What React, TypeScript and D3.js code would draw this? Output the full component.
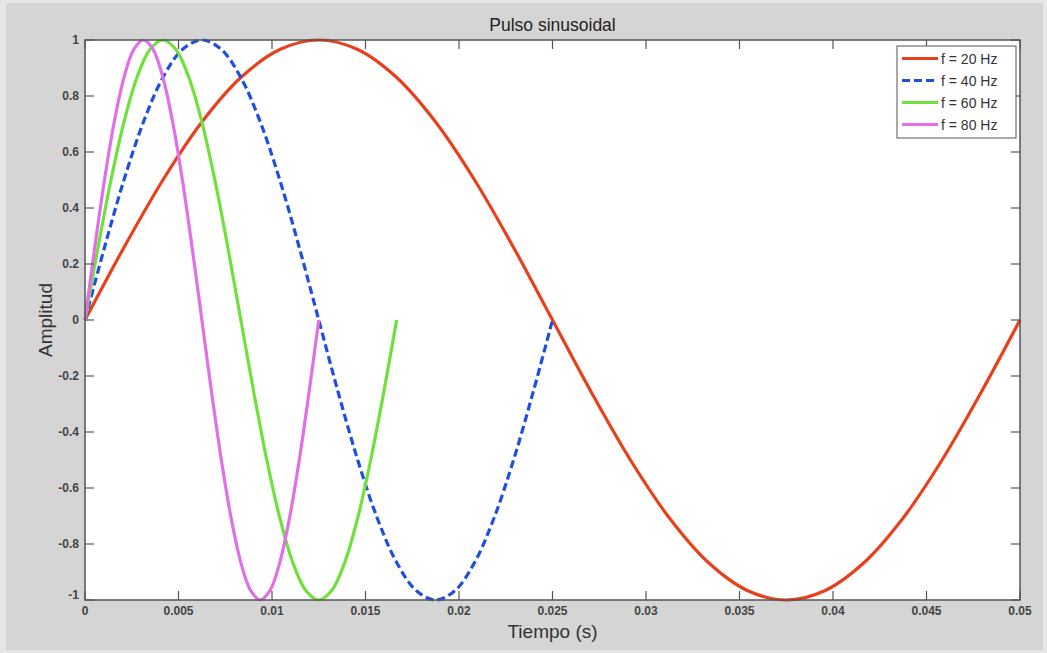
import React from "react";
import * as d3 from "d3";

// Legend labels and frequencies (Hz)
const seriesNames = ["f = 20 Hz", "f = 40 Hz", "f = 60 Hz", "f = 80 Hz"];
const frequencies = [20, 40, 60, 80];
// Duration of each pulse (one period, s)
const durations = [0.05, 0.025, 0.016667, 0.0125];
// Amplitude read along one period, at 24 equal steps
const pulseShape = [
  0, 0.259, 0.5, 0.707, 0.866, 0.966, 1, 0.966, 0.866, 0.707, 0.5, 0.259, 0,
  -0.259, -0.5, -0.707, -0.866, -0.966, -1, -0.966, -0.866, -0.707, -0.5, -0.259, 0,
];
const colors = ["#e8401c", "#1f4fe0", "#70e03c", "#e070e6"];
const dashes = [null, "8,4", null, null];

const xTicks = [0, 0.005, 0.01, 0.015, 0.02, 0.025, 0.03, 0.035, 0.04, 0.045, 0.05];
const yTicks = [-1, -0.8, -0.6, -0.4, -0.2, 0, 0.2, 0.4, 0.6, 0.8, 1];

const W = 1047;
const H = 653;
const L = 85, R = 1020, T = 40, B = 600;

export default function App() {
  const x = d3.scaleLinear().domain([0, 0.05]).range([L, R]);
  const y = d3.scaleLinear().domain([-1, 1]).range([B, T]);
  const line = d3
    .line<[number, number]>()
    .x((d) => x(d[0]))
    .y((d) => y(d[1]))
    .curve(d3.curveCatmullRom.alpha(0.5));

  const series = frequencies.map((f, si) =>
    pulseShape.map((a, i) => [(i / (pulseShape.length - 1)) * durations[si], a] as [number, number])
  );

  const font = "'Liberation Sans', Arial, Helvetica, sans-serif";
  const tickLen = 9;

  return (
    <svg
      width={W}
      height={H}
      style={{ position: "absolute", left: 0, top: 0, display: "block" }}
      fontFamily={font}
    >
      <rect x={0} y={0} width={W} height={H} fill="#e6e6e6" />
      <rect x={6} y={3} width={W - 10} height={H - 6} fill="#d5d5d5" />
      <rect x={L} y={T} width={R - L} height={B - T} fill="#ffffff" />

      <text x={(L + R) / 2} y={31} textAnchor="middle" fontSize={17.5} fill="#222">
        Pulso sinusoidal
      </text>

      <defs>
        <clipPath id="plotclip">
          <rect x={L - 3} y={T - 3} width={R - L + 6} height={B - T + 6} />
        </clipPath>
      </defs>

      <g clipPath="url(#plotclip)">
        {series.map((s, i) => (
          <path
            key={i}
            d={line(s) || ""}
            fill="none"
            stroke={colors[i]}
            strokeWidth={3.2}
            strokeDasharray={dashes[i] || undefined}
          />
        ))}
      </g>

      {/* axes box */}
      <rect x={L} y={T} width={R - L} height={B - T} fill="none" stroke="#555" strokeWidth={1.5} />

      {xTicks.map((t, i) => (
        <g key={"x" + i}>
          <line x1={x(t)} x2={x(t)} y1={B} y2={B - tickLen} stroke="#555" strokeWidth={1.2} />
          <line x1={x(t)} x2={x(t)} y1={T} y2={T + tickLen} stroke="#555" strokeWidth={1.2} />
          <text x={x(t)} y={615} textAnchor="middle" fontSize={12} fontWeight="bold" fill="#444">
            {String(t)}
          </text>
        </g>
      ))}
      {yTicks.map((t, i) => (
        <g key={"y" + i}>
          <line x1={L} x2={L + tickLen} y1={y(t)} y2={y(t)} stroke="#555" strokeWidth={1.2} />
          <line x1={R} x2={R - tickLen} y1={y(t)} y2={y(t)} stroke="#555" strokeWidth={1.2} />
          <text
            x={79}
            y={t === -1 ? y(t) - 1 : y(t) + 4}
            textAnchor="end"
            fontSize={12}
            fontWeight="bold"
            fill="#444"
          >
            {String(t)}
          </text>
        </g>
      ))}

      <text x={(L + R) / 2} y={638} textAnchor="middle" fontSize={19} fill="#333">
        Tiempo (s)
      </text>
      <text
        transform={`translate(52,${(T + B) / 2}) rotate(-90)`}
        textAnchor="middle"
        fontSize={19}
        fill="#333"
      >
        Amplitud
      </text>

      {/* legend */}
      <g>
        <rect x={897} y={46} width={119} height={92} fill="#ffffff" stroke="#555" strokeWidth={1} />
        {seriesNames.map((n, i) => {
          const ly = 58.5 + i * 22;
          return (
            <g key={"l" + i}>
              <line
                x1={902}
                x2={938}
                y1={ly}
                y2={ly}
                stroke={colors[i]}
                strokeWidth={3}
                strokeDasharray={dashes[i] || undefined}
              />
              <text x={941} y={ly + 5} fontSize={14} fill="#333">
                {n}
              </text>
            </g>
          );
        })}
      </g>
    </svg>
  );
}
